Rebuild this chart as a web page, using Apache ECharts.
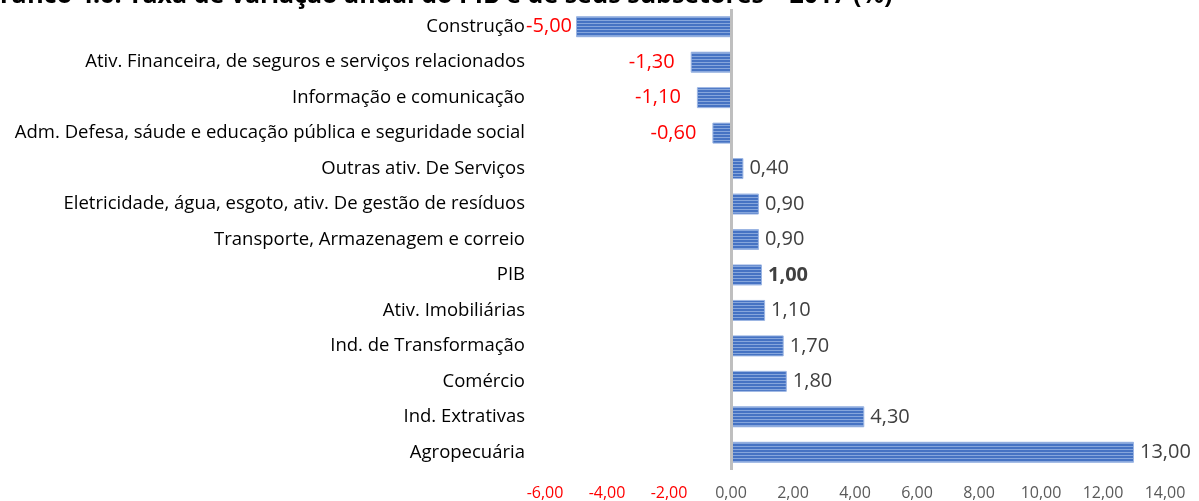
<!DOCTYPE html>
<html>
<head>
<meta charset="utf-8">
<script src="https://cdn.jsdelivr.net/npm/echarts@6/dist/echarts.min.js"></script>
<style>
  html, body { margin: 0; padding: 0; background: #fff; }
  #chart { width: 1199px; height: 501px; }
</style>
</head>
<body>
<div id="chart"></div>
<script>
const categories = [
  'Construção',
  'Ativ. Financeira, de seguros e serviços relacionados',
  'Informação e comunicação',
  'Adm. Defesa, sáude e educação pública e seguridade social',
  'Outras ativ. De Serviços',
  'Eletricidade, água, esgoto, ativ. De gestão de resíduos',
  'Transporte, Armazenagem e correio',
  'PIB',
  'Ativ. Imobiliárias',
  'Ind. de Transformação',
  'Comércio',
  'Ind. Extrativas',
  'Agropecuária'
]
const values = [-5.0, -1.3, -1.1, -0.6, 0.4, 0.9, 0.9, 1.0, 1.1, 1.7, 1.8, 4.3, 13.0]
const titleText = 'Gráfico 4.6: Taxa de variação anual do PIB e de seus subsetores – 2017 (%)'

const fmt = v => v.toFixed(2).replace('.', ',')

// listras horizontais das barras (estilo Excel)
function stripes() {
  const c = document.createElement('canvas')
  c.width = 4
  c.height = 3
  const ctx = c.getContext('2d')
  ctx.fillStyle = '#4673c3'
  ctx.fillRect(0, 0, 4, 3)
  ctx.fillStyle = '#86a6dc'
  ctx.fillRect(0, 2, 4, 1)
  return c
}

const barData = values.map((v, i) => {
  const neg = v < 0
  const item = {
    value: v,
    label: {
      position: neg ? 'left' : 'right',
      color: neg ? '#FF0000' : '#404040',
      distance: neg ? 16 : 6,
      fontWeight: categories[i] === 'PIB' ? 'bold' : 'normal'
    }
  }
  if (i === 0) item.label.distance = 4
  return item
})

const myChart = echarts.init(document.getElementById('chart'))
myChart.setOption({
  animation: false,
  textStyle: { fontFamily: 'Open Sans' },
  graphic: [{
    type: 'text',
    left: -18,
    top: -17,
    style: {
      text: titleText,
      font: 'bold 25px "Open Sans"',
      fill: '#000'
    }
  }],
  grid: { left: 545, right: 34, top: 9, bottom: 30 },
  xAxis: {
    type: 'value',
    min: -6,
    max: 14,
    interval: 2,
    axisLine: { show: false },
    axisTick: { show: false },
    splitLine: { show: false },
    axisLabel: {
      margin: 15,
      fontSize: 16,
      formatter: v => fmt(v),
      color: v => (v < 0 ? '#FF0000' : '#595959')
    }
  },
  yAxis: {
    type: 'category',
    inverse: true,
    data: categories,
    axisLine: { show: false },
    axisTick: { show: false },
    axisLabel: { margin: 20, fontSize: 18.5, color: '#000' }
  },
  series: [{
    type: 'bar',
    data: barData,
    barWidth: 21,
    itemStyle: {
      color: { image: stripes(), repeat: 'repeat' },
      borderColor: '#9bb5e3',
      borderWidth: 1
    },
    label: {
      show: true,
      fontSize: 20,
      formatter: p => fmt(p.value)
    },
    markLine: {
      silent: true,
      symbol: 'none',
      label: { show: false },
      lineStyle: { color: '#BFBFBF', width: 3, type: 'solid' },
      data: [{ xAxis: 0 }]
    }
  }]
})
</script>
</body>
</html>
